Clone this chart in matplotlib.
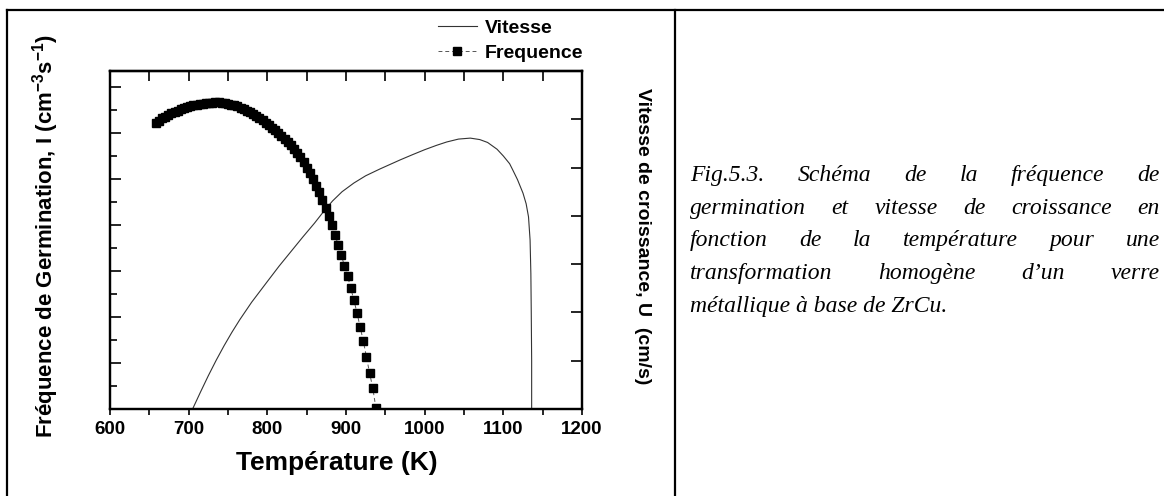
import matplotlib
matplotlib.use("Agg")
from matplotlib import pyplot as plt
from matplotlib.lines import Line2D
from matplotlib.ticker import MultipleLocator, NullFormatter

plt.rcParams['font.family'] = ['Liberation Sans', 'DejaVu Sans']
plt.rcParams['mathtext.fontset'] = 'custom'
plt.rcParams['mathtext.bf'] = 'Liberation Sans:bold'
plt.rcParams['mathtext.rm'] = 'Liberation Sans:bold'

# growth rate U (right axis, arbitrary units)
vit_T = [705, 715, 725, 735, 745, 755, 765, 780, 800, 815, 831, 845, 860, 873,
         883, 895, 910, 925, 943, 969, 985, 1000, 1015, 1028, 1043, 1058,
         1070, 1080, 1092, 1100, 1108, 1112, 1118, 1125, 1129, 1132, 1134,
         1135, 1135.5, 1136, 1136]
vit_U = [0.0, 0.35, 0.69, 1.01, 1.31, 1.59, 1.85, 2.21, 2.64, 2.96, 3.28,
         3.56, 3.85, 4.12, 4.31, 4.5, 4.68, 4.83, 4.97, 5.16, 5.27, 5.37,
         5.46, 5.53, 5.59, 5.61, 5.58, 5.52, 5.38, 5.24, 5.08, 4.95, 4.75,
         4.47, 4.25, 3.98, 3.5, 2.8, 2.0, 1.0, 0.0]

# nucleation frequency I (left axis, arbitrary units)
freq_T = [658, 662, 666, 670, 674, 678, 682, 686, 690, 694, 698, 702, 706, 710,
          714, 718, 722, 726, 730, 734, 738, 742, 746, 750, 754, 758, 762, 766,
          770, 774, 778, 782, 786, 790, 794, 798, 802, 806, 810, 814, 818, 822,
          826, 830, 834, 838, 842, 846, 850, 854, 858, 862, 866, 870, 874, 878,
          882, 886, 890, 894, 898, 902, 906, 910, 914, 918, 922, 926, 930, 934,
          938]
freq_I = [6.22, 6.27, 6.32, 6.36, 6.40, 6.43, 6.46, 6.49, 6.52, 6.54, 6.56,
          6.58, 6.60, 6.62, 6.63, 6.64, 6.65, 6.66, 6.66, 6.67, 6.67, 6.66,
          6.65, 6.64, 6.62, 6.60, 6.58, 6.55, 6.52, 6.49, 6.45, 6.41, 6.37,
          6.33, 6.28, 6.23, 6.18, 6.12, 6.06, 6.00, 5.94, 5.87, 5.80, 5.73,
          5.65, 5.57, 5.48, 5.37, 5.25, 5.13, 5.00, 4.86, 4.71, 4.55, 4.38,
          4.20, 4.00, 3.79, 3.57, 3.35, 3.11, 2.89, 2.63, 2.37, 2.09, 1.78,
          1.48, 1.13, 0.78, 0.46, 0.02]

caption_lines = [
    "Fig.5.3.  Schéma  de  la  fréquence  de",
    "germination  et  vitesse  de  croissance  en",
    "fonction  de  la  température  pour  une",
    "transformation  homogène  d’un  verre",
    "métallique à base de ZrCu.",
]

W, H = 1164, 496
fig = plt.figure(figsize=(W / 100, H / 100), dpi=100)
ax = fig.add_axes([110 / W, 1 - 409 / H, 472 / W, 338 / H])
ax2 = ax.twinx()

l_v, = ax2.plot(vit_T, vit_U, color='#333333', lw=0.8)
l_f, = ax.plot(freq_T, freq_I, color='#555555', lw=0.7, ls=(0, (4, 3)),
               marker='s', ms=5.5, mfc='black', mec='black')
ax.set_zorder(ax2.get_zorder() + 1)
ax.patch.set_visible(False)

ax.set_xlim(600, 1200)
ax.set_ylim(0, 7.35)
ax2.set_ylim(0, 7)

ax.xaxis.set_major_locator(MultipleLocator(100))
ax.xaxis.set_minor_locator(MultipleLocator(50))
ax.yaxis.set_major_locator(MultipleLocator(1))
ax.yaxis.set_minor_locator(MultipleLocator(0.5))
ax.yaxis.set_major_formatter(NullFormatter())
ax2.yaxis.set_major_locator(MultipleLocator(1))
ax2.yaxis.set_major_formatter(NullFormatter())

ax.tick_params(axis='x', which='both', direction='out', length=4, width=1.2,
               top=False, pad=5, labelsize=13.5)
for lab in ax.get_xticklabels():
    lab.set_fontweight('bold')
ax.tick_params(axis='y', which='major', direction='in', length=8, width=1.2,
               right=False)
ax.tick_params(axis='y', which='minor', direction='in', length=5, width=1.2,
               right=False)
ax2.tick_params(axis='y', which='major', direction='in', length=8, width=1.2,
                left=False)

top = ax.secondary_xaxis('top')
top.xaxis.set_major_locator(MultipleLocator(50))
top.tick_params(direction='in', length=7, width=1.2, labeltop=False)

for a in (ax, ax2):
    for s in a.spines.values():
        s.set_linewidth(1.6)
top.spines['top'].set_linewidth(1.6)

fig.text(337 / W, 1 - 463 / H, "Température (K)", fontsize=19,
         fontweight='bold', ha='center', va='center')

fig.text(46 / W, 1 - 236 / H,
         r"Fréquence de Germination, I (cm$^{-3}$s$^{-1}$)",
         rotation=90, ha='center', va='center', fontsize=16,
         fontweight='bold')
fig.text(642 / W, 1 - 236 / H, "Vitesse de croissance, U  (cm/s)",
         rotation=270, ha='center', va='center', fontsize=14,
         fontweight='bold')

fig.legend([l_v, l_f], ["Vitesse", "Frequence"], loc='upper left',
           bbox_to_anchor=(438 / W, 1 - 19 / H), frameon=False, borderpad=0,
           borderaxespad=0, handlelength=2.0, handletextpad=0.4,
           labelspacing=0.4, prop={'weight': 'bold', 'size': 14})

# frame of the figure panel
for xs, ys in [((7, W), (10, 10)), ((7, 7), (10, H)), ((675, 675), (10, H))]:
    fig.add_artist(Line2D([x / W for x in xs], [1 - y / H for y in ys],
                          color='black', lw=1.6, transform=fig.transFigure))

# justified caption
renderer = fig.canvas.get_renderer()
x0, x1 = 690, 1160
ys = [181, 214, 246, 279, 312]
for k, (line, y) in enumerate(zip(caption_lines, ys)):
    words = line.split()
    if k == len(caption_lines) - 1:
        fig.text(x0 / W, 1 - y / H, line, fontsize=17, style='italic',
                 family='Liberation Serif', va='baseline', ha='left')
        continue
    texts = [fig.text(0, 1 - y / H, w, fontsize=17, style='italic',
                      family='Liberation Serif', va='baseline', ha='left')
             for w in words]
    widths = [t.get_window_extent(renderer).width for t in texts]
    gap = (x1 - x0 - sum(widths)) / (len(words) - 1)
    x = x0
    for t, w in zip(texts, widths):
        t.set_x(x / W)
        x += w + gap

fig.savefig("out.png", dpi=100)
